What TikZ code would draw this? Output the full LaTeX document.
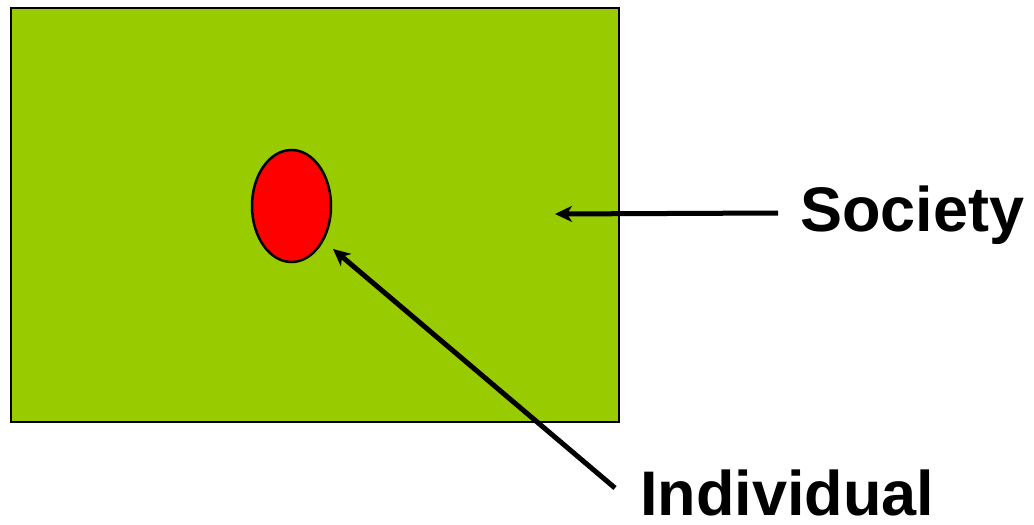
\documentclass[tikz,border=0pt]{standalone}
\usepackage{fontspec}
\setmainfont{Liberation Sans}
\usetikzlibrary{arrows.meta,shapes.geometric}
\definecolor{fieldgreen}{RGB}{153,204,0}
\tikzset{lbl/.style={font=\bfseries\fontsize{63}{70}\selectfont,inner sep=0pt,anchor=base west},
pointer/.style={line width=5pt,-{Stealth[length=17pt,width=16pt,inset=5pt]}}}
\begin{document}
\begin{tikzpicture}[x=1pt,y=-1pt]
\useasboundingbox(0,0)rectangle(1034,525);
\draw[fill=fieldgreen,line width=2pt](10.5,7.5)rectangle(618.5,421.5);
\node[ellipse,draw,line width=2.5pt,fill=red,minimum width=79pt,minimum height=112pt,inner sep=0pt](person)at(291.5,206){};
\node[lbl](society)at(800,231){Society};
\node[lbl](individual)at(640,515){Individual};
\coordinate(field)at(555,214);\coordinate(near)at(333,249);
\draw[pointer]([xshift=-22pt,yshift=18pt]society.base west)--(field);
\draw[pointer]([xshift=-25pt,yshift=27pt]individual.base west)--(near);
\end{tikzpicture}
\end{document}
